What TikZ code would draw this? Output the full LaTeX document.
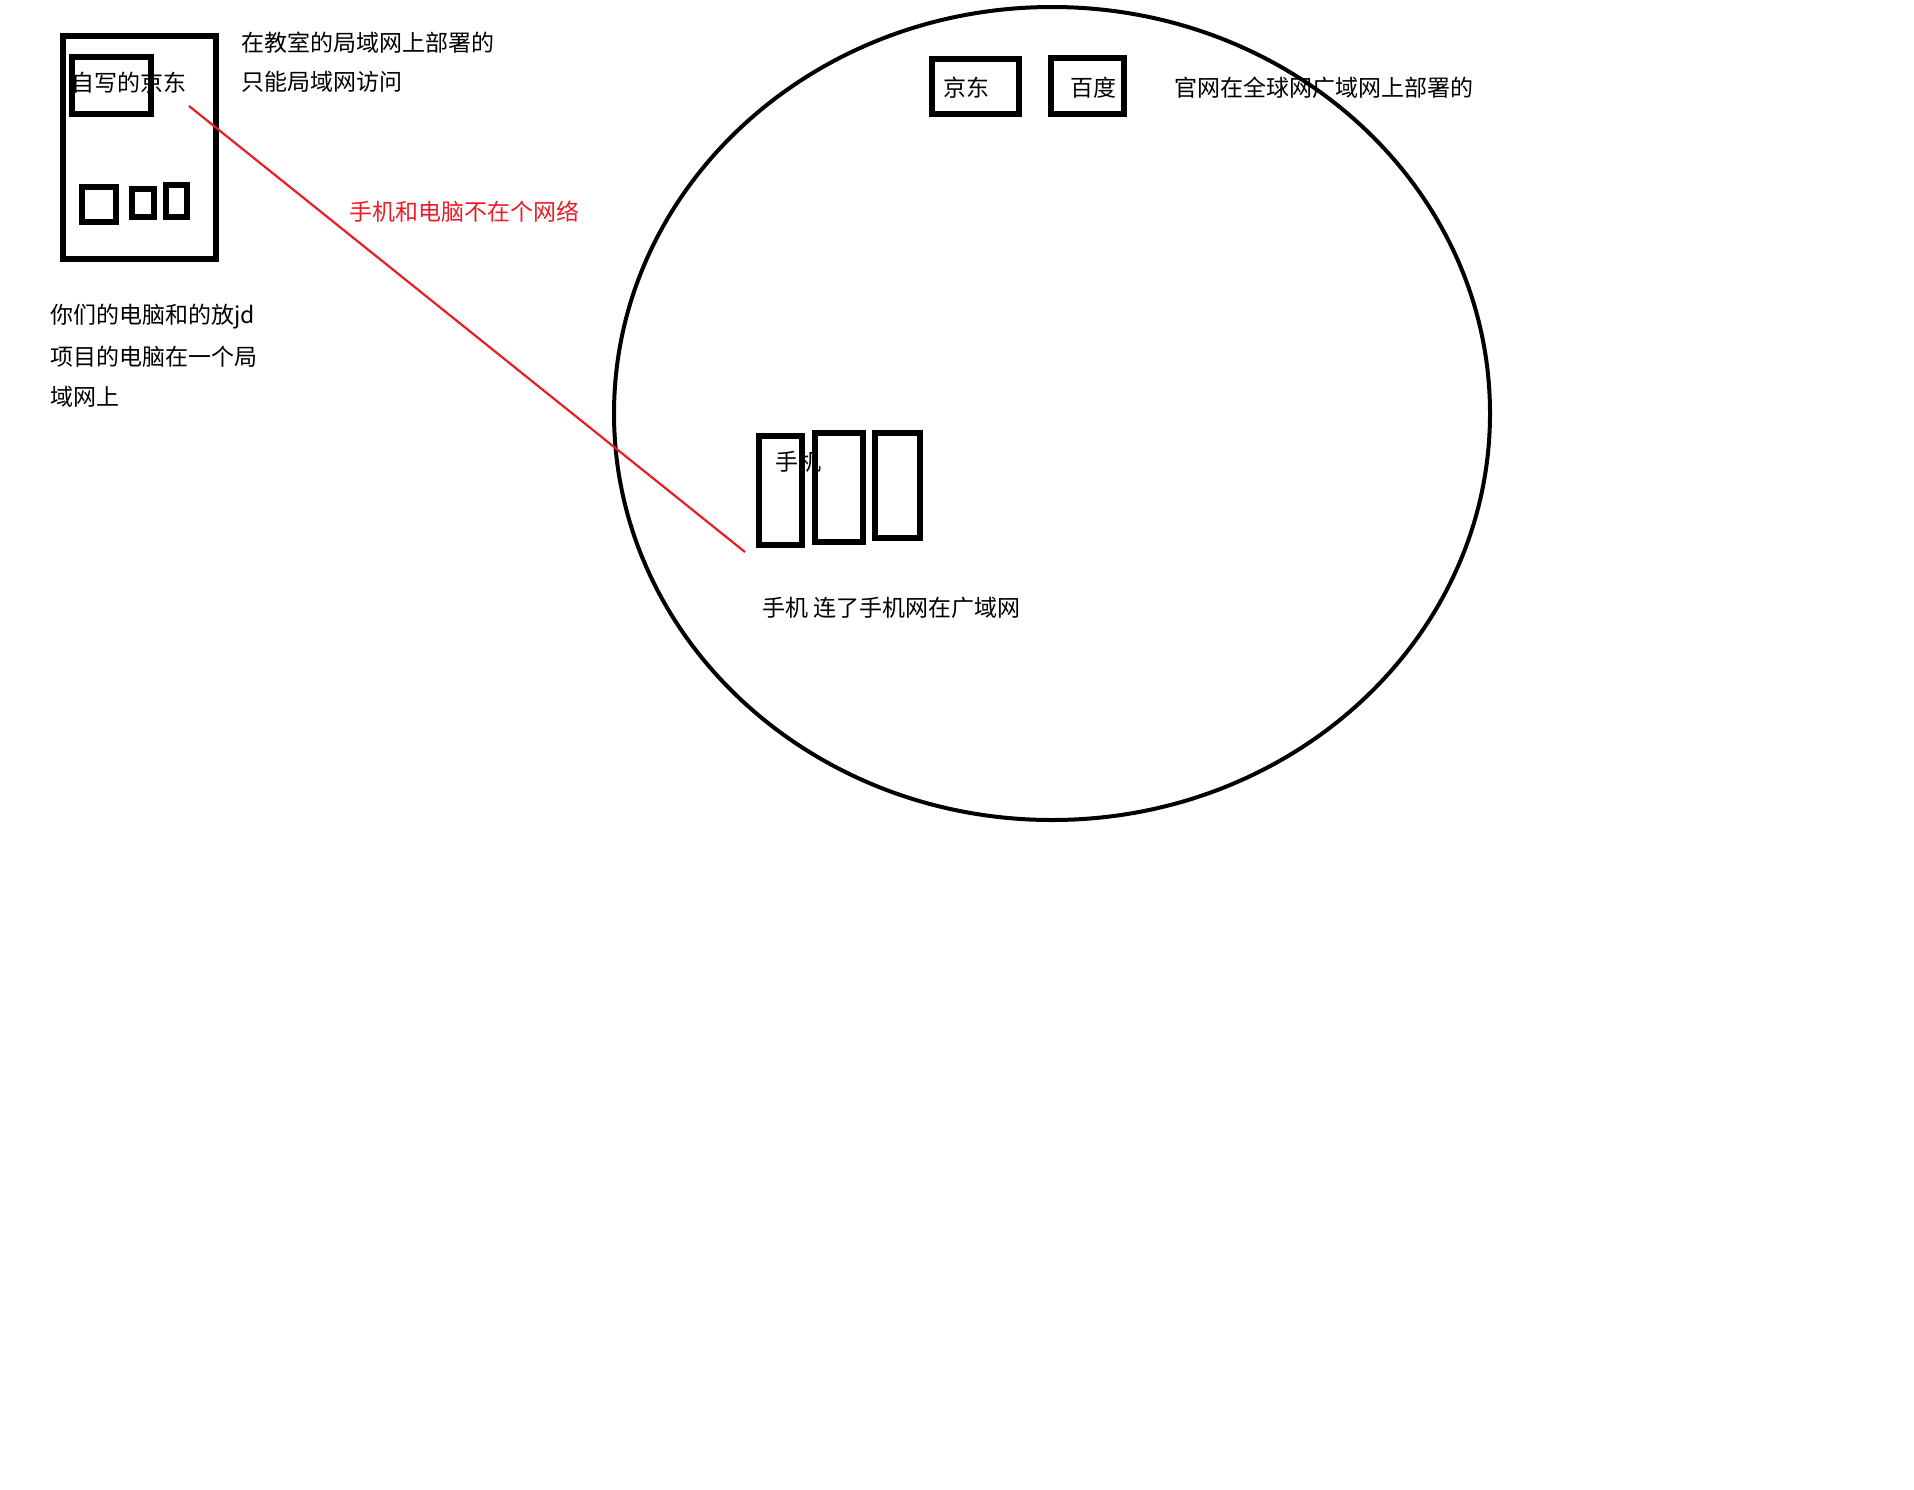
\documentclass[tikz,border=0pt]{standalone}
\usepackage{fontspec}
\newfontfamily\cjk{Noto Sans CJK SC}
\definecolor{paintred}{RGB}{237,28,36}
\tikzset{
  box/.style={draw, line width=2.6pt, inner sep=0pt},
  txt/.style={font=\cjk\fontsize{11.5}{14}\selectfont, inner sep=0pt, anchor=west},
}
\begin{document}
\begin{tikzpicture}[x=0.5pt, y=-0.5pt]
    \useasboundingbox (0,0) rectangle (1914,1489);

    % LAN computer with its boxes
    \node[box, minimum width=76.5pt, minimum height=111.5pt] (pc) at (139.5,147.5) {};
    \node[box, minimum width=39.5pt, minimum height=28.5pt] (own) at (111.5,85.5) {};
    \node[box, minimum width=17pt, minimum height=17.5pt] (s1) at (99,204.5) {};
    \node[box, minimum width=11pt, minimum height=14pt] (s2) at (143,203) {};
    \node[box, minimum width=10.5pt, minimum height=16pt] (s3) at (176.5,201) {};
    \node[txt] (ownlbl) at (71,83) {自写的京东};
    \node[txt] (lan1) at (241,43) {在教室的局域网上部署的};
    \node[txt] (lan2) at (241,82) {只能局域网访问};
    \node[txt] (pc1) at (50,317) {你们的电脑和的放jd};
    \node[txt] (pc2) at (50,357) {项目的电脑在一个局};
    \node[txt] (pc3) at (50,397) {域网上};

    % Wide area network
    \draw[line width=2pt] (1052,413.5) ellipse [x radius=219pt, y radius=203.25pt];
    \node[box, minimum width=43.5pt, minimum height=27.5pt] (jd) at (975.5,86.5) {};
    \node[box, minimum width=36.5pt, minimum height=28pt] (bd) at (1087.5,86) {};
    \node[txt] (jdlbl) at (943,88) {京东};
    \node[txt] (bdlbl) at (1070,88) {百度};
    \node[txt] (wan) at (1174,88) {官网在全球网广域网上部署的};

    % Phones
    \node[box, minimum width=21.5pt, minimum height=54.5pt] (ph1) at (780.5,490.5) {};
    \node[box, minimum width=24pt, minimum height=54.5pt] (ph2) at (839,487.5) {};
    \node[box, minimum width=22.5pt, minimum height=52.5pt] (ph3) at (897.5,485.5) {};
    \node[txt] (phlbl) at (775,462) {手机};
    \node[txt] (phnote) at (762,608) {手机 连了手机网在广域网};

    % Red line: not the same network
    \coordinate (a) at (189,106);
    \coordinate (b) at (745,552);
    \draw[paintred, line width=1.1pt] (a) -- (b);
    \node[txt, text=paintred] (apart) at (349,212) {手机和电脑不在个网络};
\end{tikzpicture}
\end{document}
